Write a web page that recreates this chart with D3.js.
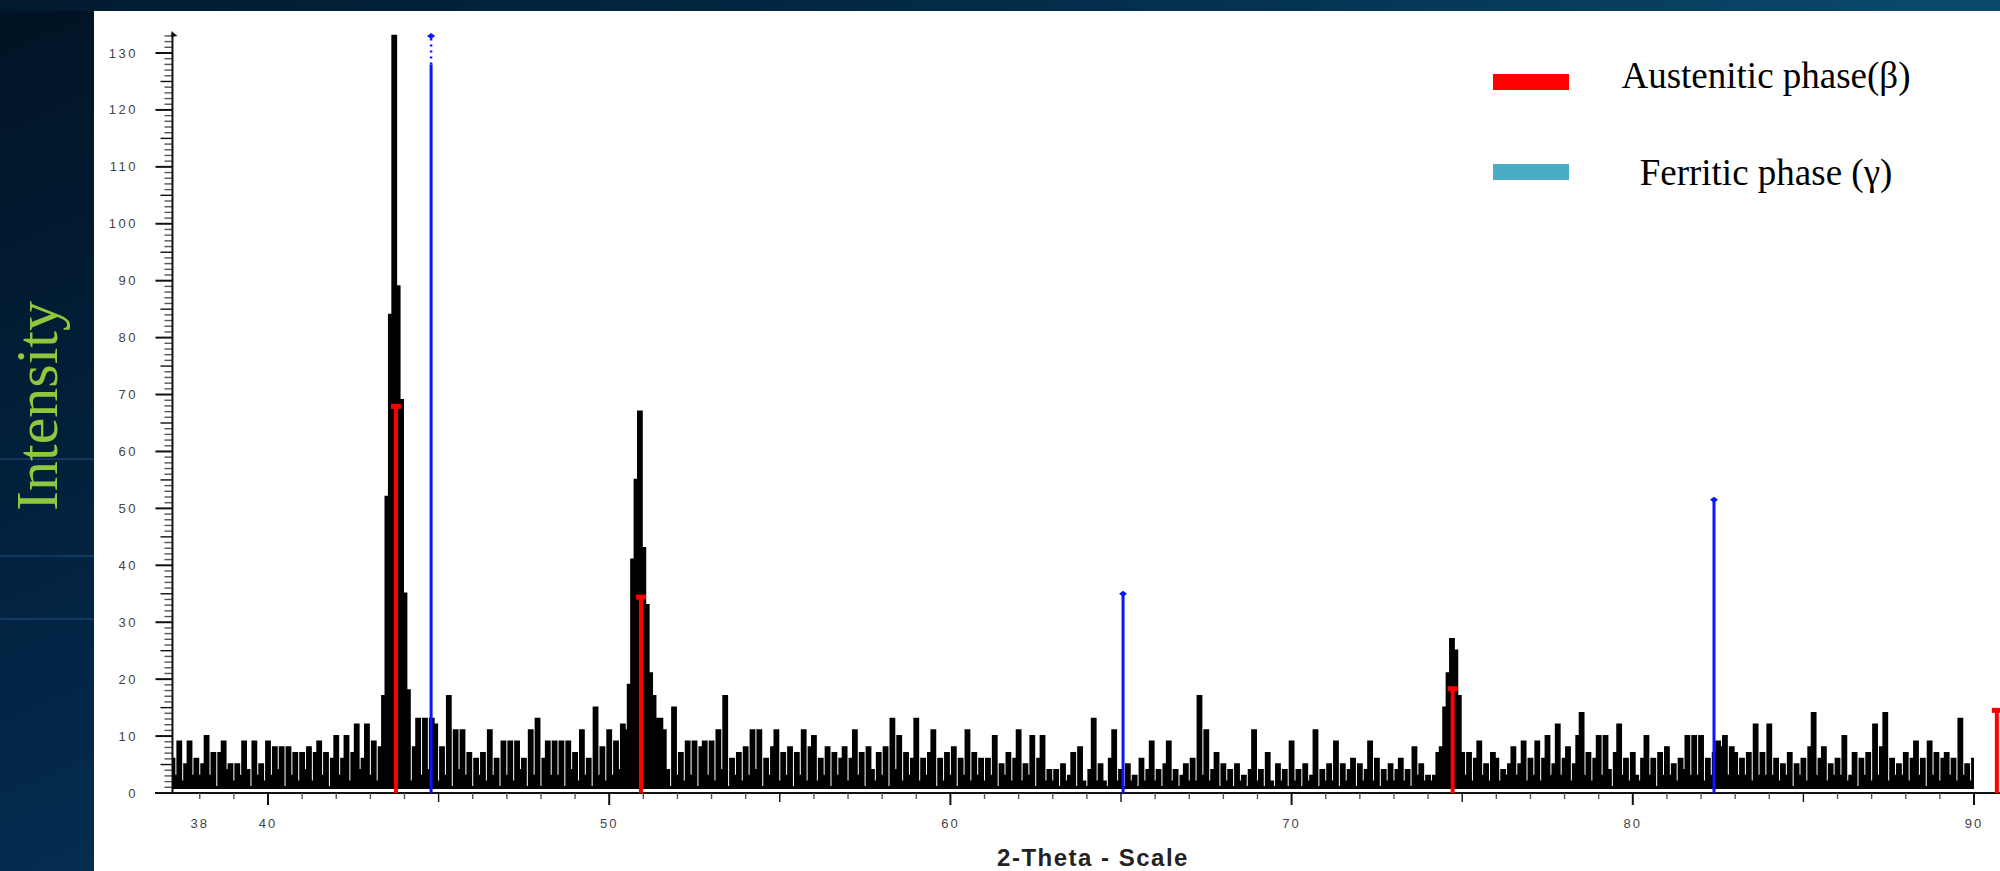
<!DOCTYPE html>
<html>
<head>
<meta charset="utf-8">
<script src="https://cdn.jsdelivr.net/npm/d3@7"></script>
<style>
  body { margin: 0; background: #021a30; }
  svg { display: block; }
</style>
</head>
<body>
<div id="chart"></div>
<script>
// svg size
var svgWidth = 2000;
var svgHeight = 871;

// scan: first angle and step (2-theta, degrees)
var startAngle = 37.2;
var stepAngle = 0.1;
// background floor of the detector trace
var floorCount = 0.7;

// counts, 0.1 deg apart
var counts37 = [6,3,9,2,5,9,3,6,
  3,5,10,3,7,1,7,9,4,5,
  2,5,3,9,4,1,9,3,5,2];
var counts40 = [9,3,8,4,8,1,8,3,7,2,
  7,4,8,2,7,9,3,7,1,6,
  10,3,6,10,2,7,12,4,6,12,
  3,9,2,8,17,52,84,133,89,69,
  35,18,2,8,13,3,13,4,13,12,
  2,8,3,17,1,11,4,11,3,7,
  1,6,3,7,2,11,3,6,1,9,
  3,9,2,9,4,6,1,11,3,13,
  1,6,9,3,9,3,9,1,9,4,
  7,2,11,3,6,1,15,3,8,2];
var counts50 = [11,3,9,4,12,11,19,41,55,67,
  43,33,21,17,13,13,11,4,1,15,
  3,7,2,9,3,9,1,8,9,3,
  9,2,11,4,17,1,6,3,7,2,
  8,3,11,4,11,1,6,3,8,11,
  2,7,3,8,1,7,3,11,2,8,
  10,2,6,3,8,1,7,3,6,8,
  2,6,11,3,7,1,8,4,2,7,
  3,8,1,13,4,10,2,7,3,6,
  13,2,6,3,7,11,1,6,2,7];
var counts60 = [3,8,1,6,3,11,2,7,3,6,
  2,6,3,10,1,5,3,7,2,6,
  11,2,5,3,10,1,6,10,2,4,
  2,4,1,5,2,3,7,1,8,2,
  1,4,13,2,5,2,1,6,11,2,
  4,1,5,2,3,1,6,2,4,9,
  2,4,1,5,9,2,4,1,3,5,
  2,6,2,17,3,11,2,4,7,1,
  5,2,4,1,5,2,3,1,4,11,
  2,4,1,7,2,1,5,2,4,1];
var counts70 = [9,2,4,1,5,2,3,11,1,4,
  2,5,2,9,1,5,2,4,6,1,
  5,2,4,9,2,6,1,4,2,5,
  2,4,6,2,4,1,8,3,5,2,
  3,2,3,7,8,15,21,27,25,17,
  7,3,7,2,6,9,3,5,2,7,
  6,2,4,3,5,8,3,5,9,2,
  6,3,9,2,6,10,3,5,12,3,
  6,8,2,5,10,14,3,7,2,6,
  10,3,10,4,1,7,12,3,6,2];
var counts80 = [7,3,2,6,10,3,6,1,7,3,
  8,3,5,2,6,4,10,3,10,3,
  10,2,6,3,7,9,8,10,3,8,
  7,3,6,3,7,2,12,3,7,3,
  12,3,6,2,5,3,7,1,5,3,
  6,2,8,14,3,6,8,2,5,3,
  6,3,10,2,3,7,1,6,3,7,
  2,12,3,8,14,2,6,3,5,3,
  7,2,6,9,3,6,1,9,3,7,
  2,6,7,3,6,2,13,3,5,2,
  6];

// reference patterns
var austeniteAngles = [43.75, 50.93, 74.72, 90.67];
var austeniteHeights = [68, 34.5, 18.4, 14.6];
var ferriteAngles = [44.78, 65.06, 82.38];
var ferriteHeights = [133, 35, 51.5];
// stick heights above this are drawn dotted
var clipLevel = 128;

// ticks
var xTickLabels = [38, 40, 50, 60, 70, 80, 90];
var xMinorTicks = d3.range(38, 91, 1);
var yTickLabels = d3.range(0, 131, 10);
var yMinorTicks = d3.range(0, 134, 1);

// legend
var legendLabels = ['Austenitic phase(\u03b2)', 'Ferritic phase (\u03b3)'];
var legendColors = ['#ff0000', '#4bacc6'];

var counts = counts37.concat(counts40, counts50, counts60, counts70, counts80);
var scan = counts.map(function(c, i) {
  return { angle: startAngle + i * stepAngle, count: c };
});

var svg = d3.select('#chart').append('svg')
  .attr('width', svgWidth)
  .attr('height', svgHeight);

// slide background
var defs = svg.append('defs');
var bg = defs.append('linearGradient')
  .attr('id', 'bg')
  .attr('x1', 0).attr('y1', 0).attr('x2', 1).attr('y2', 1);
bg.append('stop').attr('offset', 0).attr('stop-color', '#011324');
bg.append('stop').attr('offset', 0.45).attr('stop-color', '#03284a');
bg.append('stop').attr('offset', 1).attr('stop-color', '#0a4c72');
svg.append('rect')
  .attr('width', svgWidth).attr('height', svgHeight)
  .attr('fill', 'url(#bg)');
var topBand = defs.append('linearGradient').attr('id', 'topband');
topBand.append('stop').attr('offset', 0).attr('stop-color', '#021a2e');
topBand.append('stop').attr('offset', 0.5).attr('stop-color', '#032b48');
topBand.append('stop').attr('offset', 1).attr('stop-color', '#0b4a6c');
svg.append('rect')
  .attr('width', svgWidth).attr('height', 11)
  .attr('fill', 'url(#topband)');

// faint streaks on the left strip
[458, 555, 618].forEach(function(sy) {
  svg.append('rect')
    .attr('x', 0).attr('y', sy).attr('width', 94).attr('height', 2)
    .attr('fill', '#2a6fa8').attr('opacity', 0.3);
});

// white plot panel
svg.append('rect')
  .attr('x', 94).attr('y', 11)
  .attr('width', svgWidth - 94).attr('height', svgHeight - 11)
  .attr('fill', '#ffffff');

// scales
var x = d3.scaleLinear().domain([40, 90]).range([268, 1974]);
var y = d3.scaleLinear().domain([0, 130]).range([793, 53]);
var axisX = x(startAngle);

// y axis: ticks
var yAxisGroup = svg.append('g').attr('class', 'y-axis');
yAxisGroup.selectAll('line.tick')
  .data(yMinorTicks)
  .enter()
  .append('line')
  .attr('x1', function(d) { return d % 10 === 0 ? axisX - 17 : (d % 5 === 0 ? axisX - 12 : axisX - 8); })
  .attr('x2', axisX)
  .attr('y1', function(d) { return y(d); })
  .attr('y2', function(d) { return y(d); })
  .attr('stroke', function(d) { return d % 5 === 0 ? '#111' : '#555'; })
  .attr('stroke-width', function(d) { return d % 10 === 0 ? 2 : 1.4; });

yAxisGroup.append('line')
  .attr('x1', axisX).attr('x2', axisX)
  .attr('y1', y(0)).attr('y2', y(133.5))
  .attr('stroke', '#111').attr('stroke-width', 2);
yAxisGroup.append('path')
  .attr('d', 'M' + (axisX - 1) + ',' + (y(133.5) - 2) + 'l6,5l-6,1z')
  .attr('fill', '#111');

yAxisGroup.selectAll('text')
  .data(yTickLabels)
  .enter()
  .append('text')
  .attr('x', 138)
  .attr('y', function(d) { return y(d); })
  .attr('dy', '0.35em')
  .attr('text-anchor', 'end')
  .attr('font-family', 'Liberation Sans, Arial, sans-serif')
  .attr('font-size', '13px')
  .attr('letter-spacing', '2.5px')
  .attr('fill', '#444')
  .text(function(d) { return d; });

// x axis
var xAxisGroup = svg.append('g').attr('class', 'x-axis');
xAxisGroup.append('line')
  .attr('x1', 155).attr('x2', svgWidth)
  .attr('y1', y(0)).attr('y2', y(0))
  .attr('stroke', '#111').attr('stroke-width', 2);
xAxisGroup.selectAll('line.tick')
  .data(xMinorTicks)
  .enter()
  .append('line')
  .attr('x1', function(d) { return x(d); })
  .attr('x2', function(d) { return x(d); })
  .attr('y1', y(0))
  .attr('y2', function(d) { return d % 10 === 0 ? y(0) + 12 : (d % 5 === 0 ? y(0) + 9 : y(0) + 6); })
  .attr('stroke', function(d) { return d % 5 === 0 ? '#111' : '#555'; })
  .attr('stroke-width', function(d) { return d % 10 === 0 ? 2 : 1.4; });
xAxisGroup.selectAll('text')
  .data(xTickLabels)
  .enter()
  .append('text')
  .attr('x', function(d) { return x(d); })
  .attr('y', 828)
  .attr('text-anchor', 'middle')
  .attr('font-family', 'Liberation Sans, Arial, sans-serif')
  .attr('font-size', '13px')
  .attr('letter-spacing', '2px')
  .attr('fill', '#444')
  .text(function(d) { return d; });

svg.append('text')
  .attr('x', 1093)
  .attr('y', 866)
  .attr('text-anchor', 'middle')
  .attr('font-family', 'Liberation Sans, Arial, sans-serif')
  .attr('font-weight', 'bold')
  .attr('font-size', '24px')
  .attr('letter-spacing', '1.5px')
  .attr('fill', '#222')
  .text('2-Theta - Scale');

// measured pattern: filled step trace with an outline
var scanArea = d3.area()
  .x(function(d) { return x(d.angle); })
  .y0(y(floorCount))
  .y1(function(d) { return y(d.count); })
  .curve(d3.curveStep);
var scanLine = d3.line()
  .x(function(d) { return x(d.angle); })
  .y(function(d) { return y(d.count); })
  .curve(d3.curveStep);

svg.append('path')
  .datum(scan)
  .attr('d', scanArea)
  .attr('fill', '#000');
svg.append('path')
  .datum(scan)
  .attr('d', scanLine)
  .attr('fill', 'none')
  .attr('stroke', '#000')
  .attr('stroke-width', 2.4);

// austenite sticks
var austenite = austeniteAngles.map(function(a, i) { return { angle: a, h: austeniteHeights[i] }; });
svg.selectAll('.aust')
  .data(austenite)
  .enter()
  .append('line')
  .classed('aust', true)
  .attr('x1', function(d) { return x(d.angle); })
  .attr('x2', function(d) { return x(d.angle); })
  .attr('y1', y(0))
  .attr('y2', function(d) { return y(d.h); })
  .attr('stroke', '#ff0000')
  .attr('stroke-width', 4);
svg.selectAll('.austTop')
  .data(austenite)
  .enter()
  .append('rect')
  .classed('austTop', true)
  .attr('x', function(d) { return x(d.angle) - 5; })
  .attr('y', function(d) { return y(d.h) - 2; })
  .attr('width', 10)
  .attr('height', 5)
  .attr('fill', '#ff0000');

// ferrite sticks
var ferrite = ferriteAngles.map(function(a, i) { return { angle: a, h: ferriteHeights[i] }; });
svg.selectAll('.ferr')
  .data(ferrite)
  .enter()
  .append('line')
  .classed('ferr', true)
  .attr('x1', function(d) { return x(d.angle); })
  .attr('x2', function(d) { return x(d.angle); })
  .attr('y1', y(0))
  .attr('y2', function(d) { return y(Math.min(d.h, clipLevel)); })
  .attr('stroke', '#0a14ff')
  .attr('stroke-width', 3);
svg.selectAll('.ferrDots')
  .data(ferrite.filter(function(d) { return d.h > clipLevel; }))
  .enter()
  .append('line')
  .classed('ferrDots', true)
  .attr('x1', function(d) { return x(d.angle); })
  .attr('x2', function(d) { return x(d.angle); })
  .attr('y1', y(clipLevel))
  .attr('y2', function(d) { return y(d.h); })
  .attr('stroke', '#0a14ff')
  .attr('stroke-width', 2.5)
  .attr('stroke-dasharray', '2,4');
svg.selectAll('.ferrTop')
  .data(ferrite)
  .enter()
  .append('path')
  .classed('ferrTop', true)
  .attr('d', function(d) {
    var cx = x(d.angle), cy = y(d.h);
    return 'M' + (cx - 4) + ',' + cy + 'L' + cx + ',' + (cy - 3) + 'L' + (cx + 4) + ',' + cy + 'L' + cx + ',' + (cy + 3) + 'Z';
  })
  .attr('fill', '#0a14ff');

// legend
var legend = svg.append('g').attr('class', 'legend');
legendLabels.forEach(function(label, i) {
  legend.append('rect')
    .attr('x', 1493)
    .attr('y', 74 + i * 90)
    .attr('width', 76)
    .attr('height', 16)
    .attr('fill', legendColors[i]);
  legend.append('text')
    .attr('x', 1766)
    .attr('y', 88 + i * 97)
    .attr('text-anchor', 'middle')
    .attr('font-family', 'Liberation Serif, Times New Roman, serif')
    .attr('font-size', '37px')
    .attr('fill', '#000')
    .text(label);
});

// y title on the slide
svg.append('text')
  .attr('transform', 'translate(57, 406) rotate(-90)')
  .attr('text-anchor', 'middle')
  .attr('font-family', 'Liberation Serif, Times New Roman, serif')
  .attr('font-size', '60px')
  .attr('fill', '#8fc73e')
  .text('Intensity');
</script>
</body>
</html>
